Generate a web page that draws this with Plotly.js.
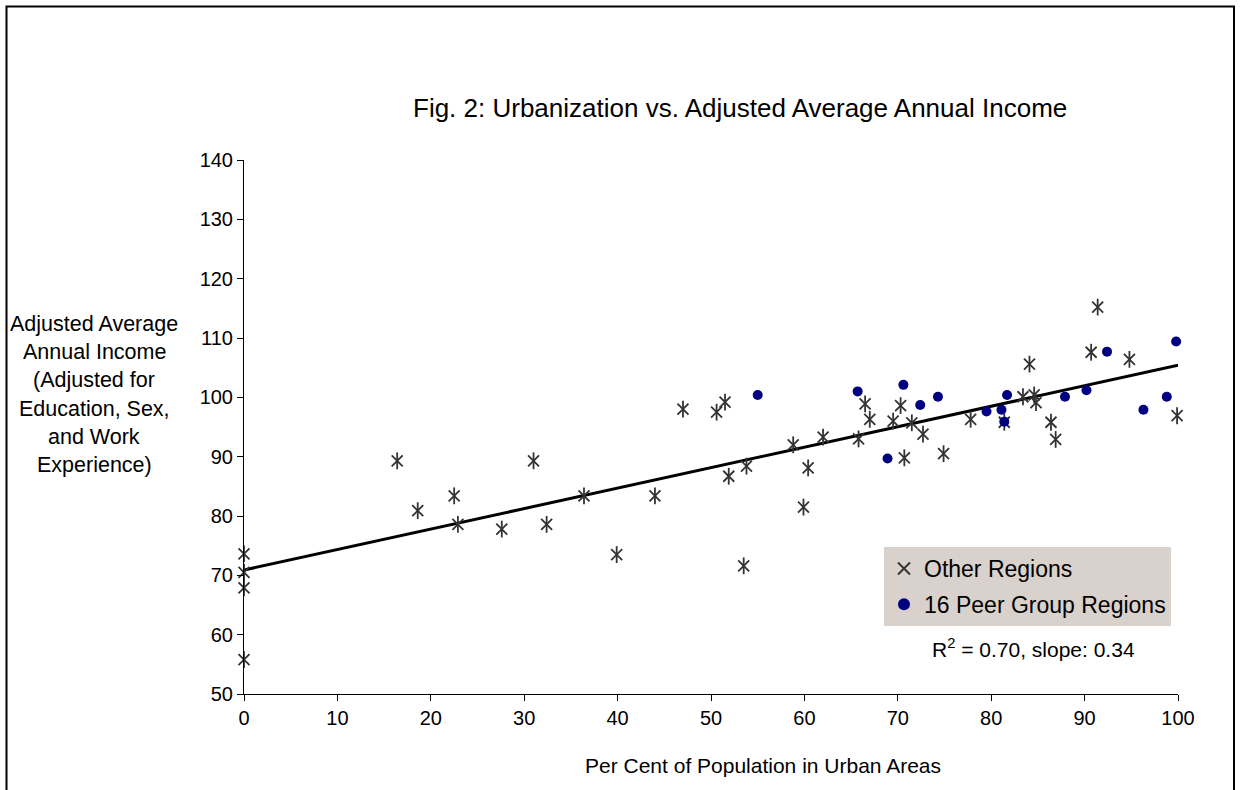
<!DOCTYPE html>
<html>
<head>
<meta charset="utf-8">
<script src="https://cdn.plot.ly/plotly-3.0.1.min.js"></script>
<style>html,body{margin:0;padding:0;background:#fff;}#chart{width:1241px;height:790px;}</style>
</head>
<body>
<div id="chart"></div>
<script>
// Other Regions (asterisks)
const otherX = [0, 0, 0, 0, 16.4, 18.6, 22.5, 22.9, 27.6, 31.0, 32.4, 36.4, 39.9, 44.0, 47.0, 50.6, 51.5, 51.9, 53.5, 53.8, 58.8, 59.9, 60.4, 62.0, 65.8, 66.5, 67.0, 69.5, 70.3, 70.7, 71.5, 72.7, 74.9, 77.8, 81.4, 83.4, 84.1, 84.6, 84.8, 86.4, 86.9, 90.7, 91.4, 94.8, 99.9];
const otherY = [73.6, 70.5, 67.9, 55.8, 89.3, 80.9, 83.4, 78.6, 77.8, 89.3, 78.6, 83.4, 73.5, 83.4, 98.0, 97.5, 99.2, 86.7, 71.6, 88.4, 92.0, 81.5, 88.1, 93.3, 93.0, 98.9, 96.3, 96.0, 98.6, 89.8, 95.7, 93.8, 90.5, 96.3, 95.8, 100.1, 105.6, 100.4, 99.1, 95.8, 92.9, 107.6, 115.2, 106.4, 96.9];
// 16 Peer Group Regions (dots)
const peerX = [55.0, 65.7, 68.9, 70.6, 72.4, 74.3, 79.5, 81.1, 81.7, 81.4, 87.9, 90.2, 92.4, 96.3, 98.8, 99.8];
const peerY = [100.4, 101.0, 89.7, 102.1, 98.7, 100.1, 97.6, 97.9, 100.4, 95.9, 100.1, 101.2, 107.7, 97.9, 100.1, 109.4];
// Trend line endpoints
const trendX = [0, 100];
const trendY = [70.9, 105.4];
const xTicks = [0, 10, 20, 30, 40, 50, 60, 70, 80, 90, 100];
const yTicks = [50, 60, 70, 80, 90, 100, 110, 120, 130, 140];
const titleText = "Fig. 2: Urbanization vs. Adjusted Average Annual Income";
const xTitleText = "Per Cent of Population in Urban Areas";
const yTitleLines = ["Adjusted Average", "Annual Income", "(Adjusted for", "Education, Sex,", "and Work", "Experience)"];
const statText = "R<sup>2</sup> = 0.70, slope: 0.34";
const legendNames = ["Other Regions", "16 Peer Group Regions"];

const FONT = "Liberation Sans, Arial, sans-serif";
const traces = [
  {x: trendX, y: trendY, mode: "lines", line: {color: "#000", width: 3}, showlegend: false, hoverinfo: "skip", cliponaxis: false},
  {x: otherX, y: otherY, mode: "markers", name: legendNames[0], legendgroup: "a", cliponaxis: false,
   marker: {symbol: "x-thin-open", size: 11, color: "#333", line: {color: "#333", width: 1.8}}},
  {x: otherX, y: otherY, mode: "markers", showlegend: false, legendgroup: "a", cliponaxis: false,
   marker: {symbol: "line-ns-open", size: 12, color: "#333", line: {color: "#333", width: 1.8}}},
  {x: peerX, y: peerY, mode: "markers", name: legendNames[1], legendgroup: "b", cliponaxis: false,
   marker: {symbol: "circle", size: 10, color: "#000080"}}
];

const plotL = 244, plotR = 1178, plotT = 160, plotB = 694;
const pw = plotR - plotL, ph = plotB - plotT;
const px = v => (v - plotL) / pw;
const py = v => (plotB - v) / ph;

const annotations = [
  {text: titleText, xref: "paper", yref: "paper", x: px(740), y: py(108), xanchor: "center", yanchor: "middle", showarrow: false, font: {family: FONT, size: 26, color: "#000"}},
  {text: xTitleText, xref: "paper", yref: "paper", x: px(763), y: py(766), xanchor: "center", yanchor: "middle", showarrow: false, font: {family: FONT, size: 21, color: "#000"}},
  {text: statText, xref: "paper", yref: "paper", x: px(1033), y: py(648), xanchor: "center", yanchor: "middle", showarrow: false, font: {family: FONT, size: 21, color: "#000"}}
];
yTitleLines.forEach((t, i) => {
  annotations.push({text: t, xref: "paper", yref: "paper", x: px(94), y: py(324 + i * 28.2), xanchor: "center", yanchor: "middle", showarrow: false, font: {family: FONT, size: 21.5, color: "#000"}});
});

const layout = {
  width: 1241, height: 790,
  margin: {l: plotL, r: 1241 - plotR, t: plotT, b: 790 - plotB, pad: 0},
  paper_bgcolor: "#fff", plot_bgcolor: "#fff",
  font: {family: FONT, size: 20, color: "#000"},
  xaxis: {range: [0, 100], tickvals: xTicks, ticktext: xTicks.map(String), showgrid: false, zeroline: false,
          showline: true, linecolor: "#000", linewidth: 1, ticks: "outside", ticklen: 6, tickcolor: "#000",
          tickfont: {family: FONT, size: 20, color: "#000"}, fixedrange: true},
  yaxis: {range: [50, 140], tickvals: yTicks, ticktext: yTicks.map(String), showgrid: false, zeroline: false,
          showline: true, linecolor: "#000", linewidth: 1, ticks: "outside", ticklen: 6, tickcolor: "#000",
          tickfont: {family: FONT, size: 20, color: "#000"}, fixedrange: true},
  showlegend: true,
  legend: {x: px(884), y: py(547), xanchor: "left", yanchor: "top", bgcolor: "#d9d1cb", borderwidth: 0,
           font: {family: FONT, size: 23, color: "#000"}, itemsizing: "constant", traceorder: "grouped",
           tracegroupgap: 3, itemwidth: 30},
  annotations: annotations,
  shapes: [
    {type: "rect", xref: "paper", yref: "paper", x0: px(6.5), x1: px(1234), y0: py(830), y1: py(6.5),
     line: {color: "#000", width: 2}, fillcolor: "rgba(0,0,0,0)", layer: "above"}
  ]
};

Plotly.newPlot("chart", traces, layout, {displayModeBar: false, staticPlot: true});
</script>
</body>
</html>
